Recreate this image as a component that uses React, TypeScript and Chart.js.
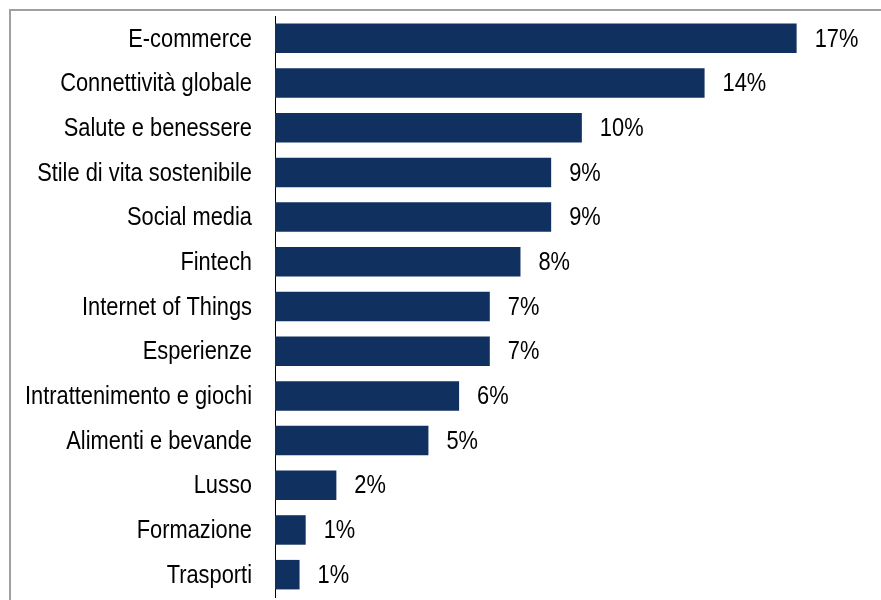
import React, { useEffect, useRef } from "react";
import { Chart, registerables } from "chart.js";

Chart.register(...registerables);

const categories = [
  "E-commerce",
  "Connettività globale",
  "Salute e benessere",
  "Stile di vita sostenibile",
  "Social media",
  "Fintech",
  "Internet of Things",
  "Esperienze",
  "Intrattenimento e giochi",
  "Alimenti e bevande",
  "Lusso",
  "Formazione",
  "Trasporti",
];

const values = [17, 14, 10, 9, 9, 8, 7, 7, 6, 5, 2, 1, 0.8];
const valueLabels = ["17%", "14%", "10%", "9%", "9%", "8%", "7%", "7%", "6%", "5%", "2%", "1%", "1%"];

const FONT = "'Liberation Sans', Arial, sans-serif";
const FONT_SIZE = 26;
const X_SQUEEZE = 0.84;

function drawNarrow(ctx: CanvasRenderingContext2D, text: string, x: number, y: number, align: CanvasTextAlign) {
  ctx.save();
  ctx.translate(x, y);
  ctx.scale(X_SQUEEZE, 1);
  ctx.textAlign = align;
  ctx.fillText(text, 0, 0);
  ctx.restore();
}

const labelsPlugin = {
  id: "narrowLabels",
  afterDatasetsDraw(chart: any) {
    const ctx = chart.ctx;
    const meta = chart.getDatasetMeta(0);
    const yScale = chart.scales.y;
    ctx.save();
    ctx.font = `${FONT_SIZE}px ${FONT}`;
    ctx.fillStyle = "#000";
    ctx.textBaseline = "middle";
    (chart.data.labels as string[]).forEach((label: string, i: number) => {
      const y = yScale.getPixelForTick(i) + 1;
      drawNarrow(ctx, label, chart.chartArea.left - 23, y, "right");
    });
    meta.data.forEach((bar: any, i: number) => {
      drawNarrow(ctx, valueLabels[i], bar.x + 18, bar.y + 1, "left");
    });
    ctx.restore();
  },
};

export default function App() {
  const ref = useRef<HTMLCanvasElement>(null);
  useEffect(() => {
    if (!ref.current) return;
    const chart = new Chart(ref.current, {
      type: "bar",
      data: {
        labels: categories,
        datasets: [
          {
            data: values,
            backgroundColor: "#10305f",
            borderWidth: 0,
            categoryPercentage: 1,
            barPercentage: 0.66,
          },
        ],
      },
      options: {
        indexAxis: "y",
        animation: false,
        responsive: false,
        maintainAspectRatio: false,
        layout: { padding: { top: 16, bottom: 3, left: 0, right: 23 } },
        plugins: {
          legend: { display: false },
          tooltip: { enabled: false },
        },
        scales: {
          x: {
            min: 0,
            max: 19,
            display: false,
            grid: { display: false },
          },
          y: {
            afterFit(axis: any) {
              axis.width = 275;
              axis.paddingTop = 0;
              axis.paddingBottom = 0;
            },
            grid: { display: false, drawTicks: false },
            border: { display: true, color: "#000", width: 1 },
            ticks: {
              display: false,
              autoSkip: false,
            },
          },
        },
      },
      plugins: [labelsPlugin],
    });
    return () => chart.destroy();
  }, []);

  return (
    <div style={{ position: "fixed", left: 0, top: 0, width: 881, height: 600, background: "#fff", overflow: "hidden" }}>
      <canvas ref={ref} width={881} height={600} style={{ position: "absolute", left: 0, top: 0 }} />
      <div
        style={{
          position: "absolute",
          left: 9,
          top: 9,
          width: 900,
          height: 700,
          borderTop: "2px solid #a0a0a0",
          borderLeft: "2px solid #a0a0a0",
          boxSizing: "border-box",
          pointerEvents: "none",
        }}
      />
    </div>
  );
}
